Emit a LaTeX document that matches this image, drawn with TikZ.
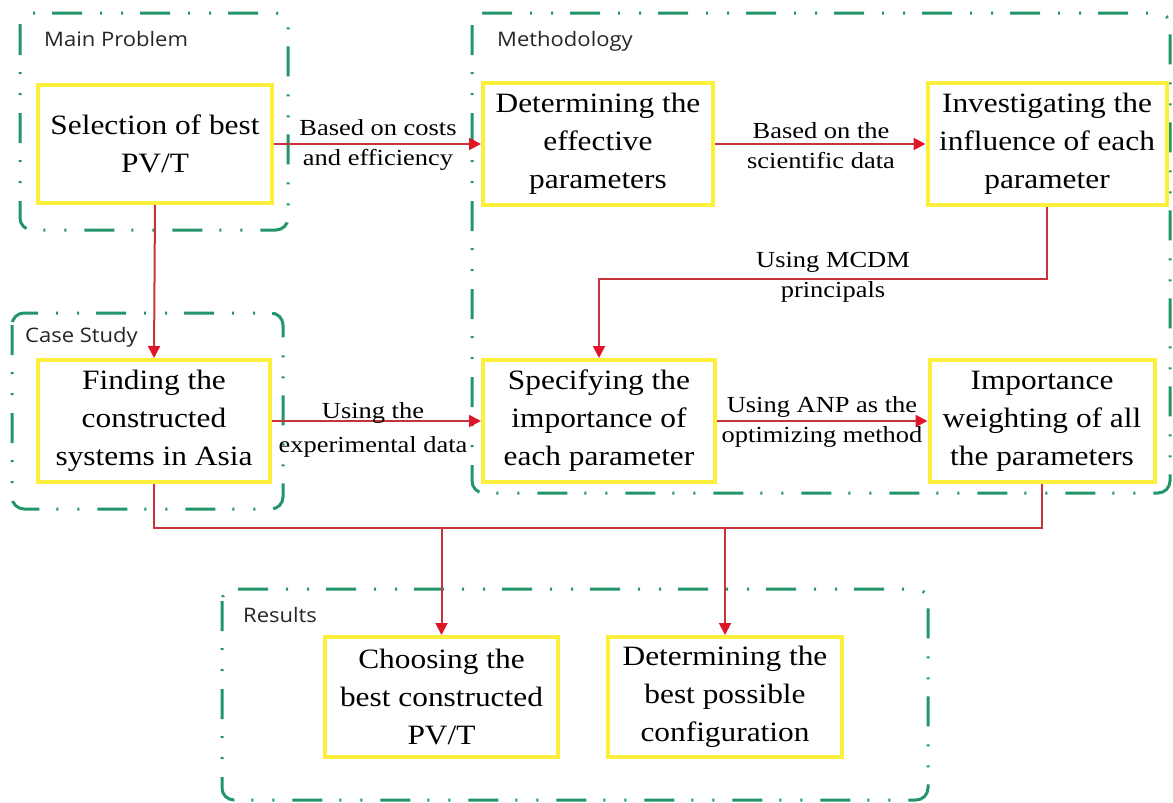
\documentclass[tikz,border=0pt]{standalone}
\usepackage{fontspec}
\setmainfont{Liberation Serif}
\newfontfamily\boxfnt[FakeStretch=1.12]{Liberation Serif}
\newfontfamily\lblfnt[FakeStretch=1.15]{Liberation Serif}
\newfontfamily\grpfnt[FakeStretch=1.1]{Open Sans}
\usetikzlibrary{arrows.meta}
\definecolor{grpgreen}{RGB}{35,150,105}
\definecolor{boxyel}{RGB}{252,240,60}
\definecolor{conred}{RGB}{200,50,58}
\definecolor{tipred}{RGB}{222,22,40}
\begin{document}
\begin{tikzpicture}[x=1pt,y=-1pt,
  grpline/.style={draw=grpgreen,line width=3pt,rounded corners=12pt,
    dash pattern=on 30pt off 17pt on 2pt off 19pt on 2pt off 18pt},
  grplabel/.style={anchor=base west,inner sep=0pt,font=\grpfnt\fontsize{20}{24}\selectfont,text=black!85},
  stepbox/.style={draw=boxyel,line width=4pt,fill=white,inner sep=0pt,align=center,
    minimum height=120pt,font=\boxfnt\fontsize{28}{38}\selectfont},
  conlbl/.style={inner sep=0pt,align=center,font=\lblfnt\fontsize{23}{30}\selectfont},
  con/.style={draw=conred,line width=2pt},
  arr/.style={con,-{Triangle[length=12pt,width=12pt,color=tipred]}}]
\useasboundingbox (0,0) rectangle (1173,803);
\fill[white] (0,0) rectangle (1173,803);

% groups
\draw[grpline] (20,13) rectangle (288,230);
\draw[grpline] (472,13) rectangle (1170,493);
\draw[grpline] (12,313) rectangle (283,509);
\draw[grpline] (222,589) rectangle (928,800);
\node[grplabel] (gmain) at (44,46) {Main Problem};
\node[grplabel] (gmeth) at (497,46) {Methodology};
\node[grplabel] (gcase) at (25,342) {Case Study};
\node[grplabel] (gres) at (243,622) {Results};

% boxes
\node[stepbox,minimum width=234pt,minimum height=118pt] (sel) at (155,144) {Selection of best\\PV/T};
\node[stepbox,minimum width=230pt,minimum height=122pt] (det) at (598,144) {Determining the\\effective\\parameters};
\node[stepbox,minimum width=239pt,minimum height=122pt] (inv) at (1047,144) {Investigating the\\influence of each\\parameter};
\node[stepbox,minimum width=232pt,minimum height=122pt] (fin) at (154,421) {Finding the\\constructed\\systems in Asia};
\node[stepbox,minimum width=232pt,minimum height=122pt] (spe) at (599,421) {Specifying the\\importance of\\each parameter};
\node[stepbox,minimum width=225pt,minimum height=122pt] (imp) at (1042,421) {Importance\\weighting of all\\the parameters};
\node[stepbox,minimum width=233pt,minimum height=120pt] (cho) at (441.5,697) {Choosing the\\best constructed\\PV/T};
\node[stepbox,minimum width=234pt,minimum height=120pt] (cfg) at (725,697) {Determining the\\best possible\\configuration};

% connectors
\coordinate (mcdm) at (0,279);
\coordinate (bus) at (0,528);
\draw[arr] (sel.south) -- (fin.north);
\draw[arr] (sel.east) -- (det.west);
\draw[arr] (det.east) -- (inv.west);
\draw[arr] (inv.south) -- (inv.south |- mcdm) -- (spe.north |- mcdm) -- (spe.north);
\draw[arr] (fin.east) -- (spe.west);
\draw[arr] (spe.east) -- (imp.west);
\draw[con] (fin.south) -- (fin.south |- bus) -- (imp.south |- bus) -- (imp.south);
\draw[arr] (cho.north |- bus) -- (cho.north);
\draw[arr] (cfg.north |- bus) -- (cfg.north);

% connector labels
\node[conlbl] (l1) at (378,145) {Based on costs\\and efficiency};
\node[conlbl] (l2) at (821,146) {Based on the\\scientific data};
\node[conlbl] (l3) at (833,277) {Using MCDM\\principals};
\node[conlbl] (l4) at (373,430) {Using the\\[4pt]experimental data};
\node[conlbl] (l5) at (822,422) {Using ANP as the\\optimizing method};
\end{tikzpicture}
\end{document}
